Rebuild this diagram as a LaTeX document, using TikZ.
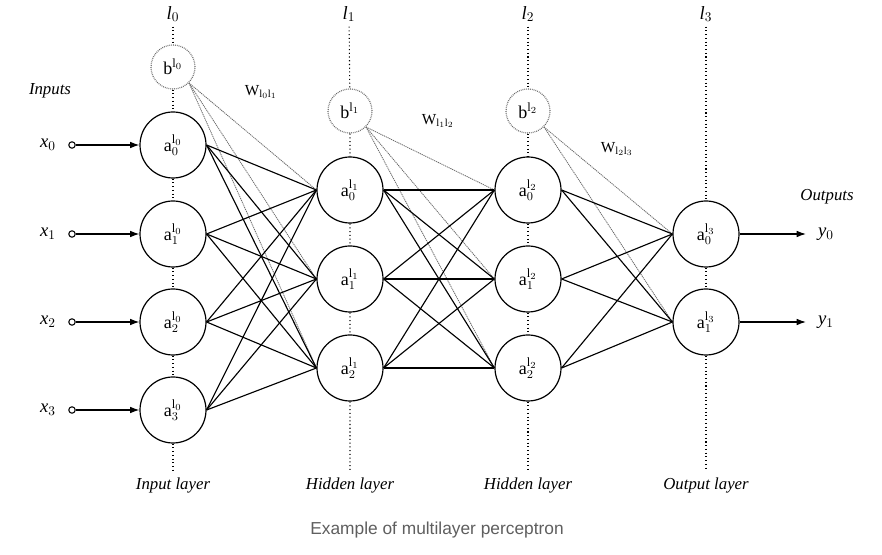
\documentclass[tikz,border=0pt]{standalone}
\usepackage{fontspec}
\setmainfont{Liberation Serif}
\newfontfamily\capfont{Liberation Sans}
\usetikzlibrary{arrows.meta}
\definecolor{capgray}{RGB}{95,95,95}
\definecolor{biasgray}{RGB}{105,105,105}

\begin{document}
\begin{tikzpicture}[x=0.75pt,y=-0.75pt,
  neuron/.style={circle,draw,line width=0.9pt,minimum size=49.5pt,inner sep=0pt,
    font=\fontsize{13.5}{15}\selectfont},
  biasnode/.style={circle,draw=biasgray,line width=0.9pt,dash pattern=on 0.6pt off 0.8pt,
    minimum size=33pt,inner sep=0pt,font=\fontsize{13.5}{15}\selectfont},
  inport/.style={circle,draw,line width=0.8pt,minimum size=4.8pt,inner sep=0pt},
  wire/.style={line width=0.85pt},
  arrowwire/.style={line width=0.9pt,-{Latex[length=7pt,width=5pt]}},
  biaswire/.style={draw=biasgray,line width=0.6pt,dash pattern=on 0.9pt off 0.6pt},
  guide/.style={line width=0.8pt,dash pattern=on 0.8pt off 2pt},
  toplabel/.style={font=\fontsize{14}{16}\selectfont},
  sidelabel/.style={font=\fontsize{14}{16}\selectfont},
  caption/.style={font=\fontsize{12.6}{14}\selectfont\itshape},
  wlabel/.style={font=\fontsize{11.5}{13}\selectfont},
]
\fill[white] (0,0) rectangle (882,555);
\useasboundingbox (0,0) rectangle (882,555);

% layer headings
\node[toplabel] (l0) at (173,14) {$\mathit{l}_0$};
\node[toplabel] (l1) at (349,14) {$\mathit{l}_1$};
\node[toplabel] (l2) at (528,14) {$\mathit{l}_2$};
\node[toplabel] (l3) at (706,14) {$\mathit{l}_3$};

% bias units
\node[biasnode] (b0) at (173,67)  {b$^{\mathrm{l}_0}$};
\node[biasnode] (b1) at (350,111) {b$^{\mathrm{l}_1}$};
\node[biasnode] (b2) at (528,111) {b$^{\mathrm{l}_2}$};

% input layer
\node[neuron] (i0) at (173,145) {$\mathrm{a}^{\mathrm{l}_0}_0$};
\node[neuron] (i1) at (173,234) {$\mathrm{a}^{\mathrm{l}_0}_1$};
\node[neuron] (i2) at (173,322) {$\mathrm{a}^{\mathrm{l}_0}_2$};
\node[neuron] (i3) at (173,410) {$\mathrm{a}^{\mathrm{l}_0}_3$};

% first hidden layer
\node[neuron] (h0) at (350,190) {$\mathrm{a}^{\mathrm{l}_1}_0$};
\node[neuron] (h1) at (350,279) {$\mathrm{a}^{\mathrm{l}_1}_1$};
\node[neuron] (h2) at (350,368) {$\mathrm{a}^{\mathrm{l}_1}_2$};

% second hidden layer
\node[neuron] (g0) at (528,190) {$\mathrm{a}^{\mathrm{l}_2}_0$};
\node[neuron] (g1) at (528,279) {$\mathrm{a}^{\mathrm{l}_2}_1$};
\node[neuron] (g2) at (528,368) {$\mathrm{a}^{\mathrm{l}_2}_2$};

% output layer
\node[neuron] (o0) at (706,234) {$\mathrm{a}^{\mathrm{l}_3}_0$};
\node[neuron] (o1) at (706,322) {$\mathrm{a}^{\mathrm{l}_3}_1$};

% bottom ends of the layer guides
\coordinate (e0) at (173,470);
\coordinate (e1) at (350,470);
\coordinate (e2) at (528,470);
\coordinate (e3) at (706,470);

% dotted layer guides
\draw[guide] (l0) -- (b0) (b0) -- (i0) (i0) -- (i1) (i1) -- (i2) (i2) -- (i3) (i3) -- (e0);
\draw[guide] (l1) -- (b1) (b1) -- (h0) (h0) -- (h1) (h1) -- (h2) (h2) -- (e1);
\draw[guide] (l2) -- (b2) (b2) -- (g0) (g0) -- (g1) (g1) -- (g2) (g2) -- (e2);
\draw[guide] (l3) -- (o0) (o0) -- (o1) (o1) -- (e3);

% layer names
\node[caption] (n0) at (173,485) {Input layer};
\node[caption] (n1) at (350,485) {Hidden layer};
\node[caption] (n2) at (528,485) {Hidden layer};
\node[caption] (n3) at (706,485) {Output layer};

% inputs
\node[caption] (inlab) at (50,91) {Inputs};
\foreach \k/\y in {0/145,1/234,2/322,3/410}{
  \node[sidelabel] (x\k lab) at (48,\y) {$\mathit{x}_\k$};
  \node[inport] (x\k) at (72,\y) {};
  \draw[arrowwire] (x\k) -- (i\k);
}

% outputs
\node[caption] (outlab) at (827,197) {Outputs};
\foreach \k/\y in {0/234,1/322}{
  \coordinate (t\k) at (806,\y);
  \node[sidelabel] (y\k lab) at (826,\y) {$\mathit{y}_\k$};
  \draw[arrowwire] (o\k) -- (t\k);
}

% bias connections
\foreach \j in {0,1,2}{
  \draw[biaswire] (b0.south east) -- (h\j.west);
  \draw[biaswire] (b1.south east) -- (g\j.west);
}
\foreach \j in {0,1}{
  \draw[biaswire] (b2.south east) -- (o\j.west);
}

% weights between layers
\foreach \i in {0,...,3}{\foreach \j in {0,1,2}{\draw[wire] (i\i.east) -- (h\j.west);}}
\foreach \i in {0,1,2}{\foreach \j in {0,1,2}{\draw[wire] (h\i.east) -- (g\j.west);}}
\foreach \i in {0,1,2}{\foreach \j in {0,1}{\draw[wire] (g\i.east) -- (o\j.west);}}

% weight matrix labels
\node[wlabel] (w01) at (261,92)  {$\mathrm{W}_{\mathrm{l}_0\mathrm{l}_1}$};
\node[wlabel] (w12) at (438,121) {$\mathrm{W}_{\mathrm{l}_1\mathrm{l}_2}$};
\node[wlabel] (w23) at (617,149) {$\mathrm{W}_{\mathrm{l}_2\mathrm{l}_3}$};

% figure caption
\node[font=\capfont\fontsize{13}{15}\selectfont,text=capgray] (cap) at (437,530)
  {Example of multilayer perceptron};
\end{tikzpicture}
\end{document}
